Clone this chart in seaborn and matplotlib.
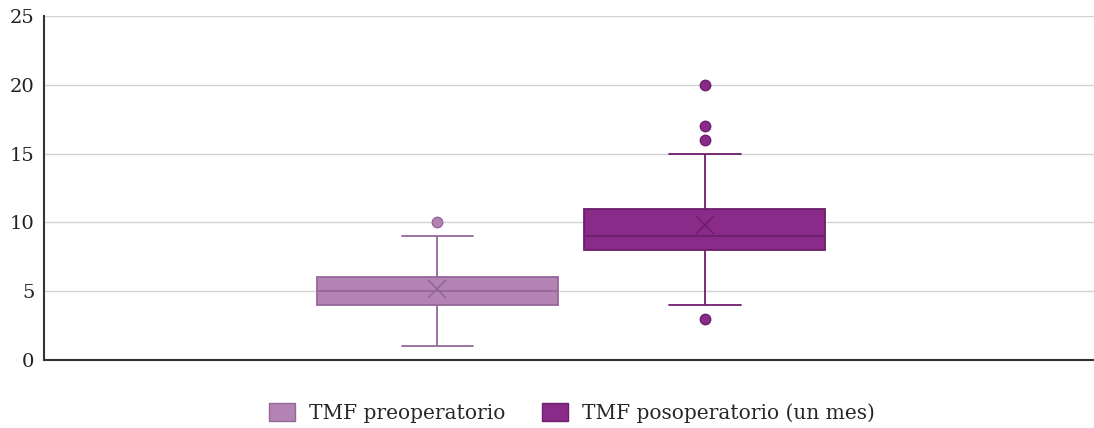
import pandas as pd
import seaborn as sns
import matplotlib.pyplot as plt
from matplotlib.patches import Patch

# values (TMF scores)
groups = ["TMF preoperatorio", "TMF posoperatorio (un mes)"]
pre_vals = [1, 2, 3, 3, 4, 4, 4, 4, 4, 4, 4, 4,
            5, 5, 5, 5, 5, 5, 5, 5, 5, 5, 5, 5,
            6, 6, 6, 6, 6, 6, 6, 6, 7, 7, 7, 8, 9, 10]
post_vals = [3, 4, 5, 6, 7, 7, 8, 8, 8, 8, 8, 8,
             9, 9, 9, 9, 9, 9, 9, 9, 10, 10, 10, 10, 10,
             11, 11, 11, 11, 11, 11, 12, 14, 15, 16, 17, 20]
fill_colors = ["#b384b3", "#8a2b8a"]
line_colors = ["#94679a", "#6c1f6c"]
y_ticks = [0, 5, 10, 15, 20, 25]

df = pd.DataFrame({
    "grupo": [groups[0]] * len(pre_vals) + [groups[1]] * len(post_vals),
    "valor": pre_vals + post_vals,
})
df["x"] = ""

sns.set_style("white")
plt.rcParams["font.family"] = ["DejaVu Serif"]

fig = plt.figure(figsize=(10.94, 4.28), dpi=100)
ax = fig.add_axes([0.0402, 0.159, 0.9598, 0.8035])

for g, fc, lc in zip(groups, fill_colors, line_colors):
    sns.boxplot(data=df[df["grupo"] == g], x="x", y="valor", hue="grupo",
                hue_order=groups, palette=dict(zip(groups, fill_colors)),
                dodge=True, width=0.51, gap=0.1, linecolor=lc, linewidth=1.3,
                saturation=1, whis=1.5, legend=False, ax=ax,
                showmeans=True,
                meanprops=dict(marker="x", markeredgecolor=lc, markersize=13,
                               markeredgewidth=1.2),
                flierprops=dict(marker="o", markerfacecolor=fc, markeredgecolor=lc,
                                markersize=7.5))

# shorter whisker caps, like the reference
for line in ax.lines:
    xs = line.get_xdata()
    ys = line.get_ydata()
    if len(xs) == 2 and ys[0] == ys[1] and abs(xs[1] - xs[0]) < 0.17:
        c = (xs[0] + xs[1]) / 2
        line.set_xdata([c - 0.034, c + 0.034])

ax.set_ylim(0, 25)
ax.set_xlim(-0.502, 0.498)
ax.set_yticks(y_ticks)
ax.set_xticks([])
ax.set_xlabel("")
ax.set_ylabel("")
ax.yaxis.grid(True, color="#d3d3d3", linewidth=1)
ax.set_axisbelow(True)
ax.tick_params(axis="y", labelsize=14, length=0, pad=7, colors="#222222")
for s in ["top", "right"]:
    ax.spines[s].set_visible(False)
for s in ["left", "bottom"]:
    ax.spines[s].set_color("#333333")
    ax.spines[s].set_linewidth(1.5)

handles = [Patch(facecolor=fc, edgecolor=lc, label=g)
           for g, fc, lc in zip(groups, fill_colors, line_colors)]
fig.legend(handles=handles, loc="center", bbox_to_anchor=(0.523, 0.035), ncol=2,
           frameon=False, fontsize=14.5, handlelength=1.3, handleheight=1.0,
           columnspacing=1.8, handletextpad=0.7)

fig.savefig("out.png", dpi=100)
